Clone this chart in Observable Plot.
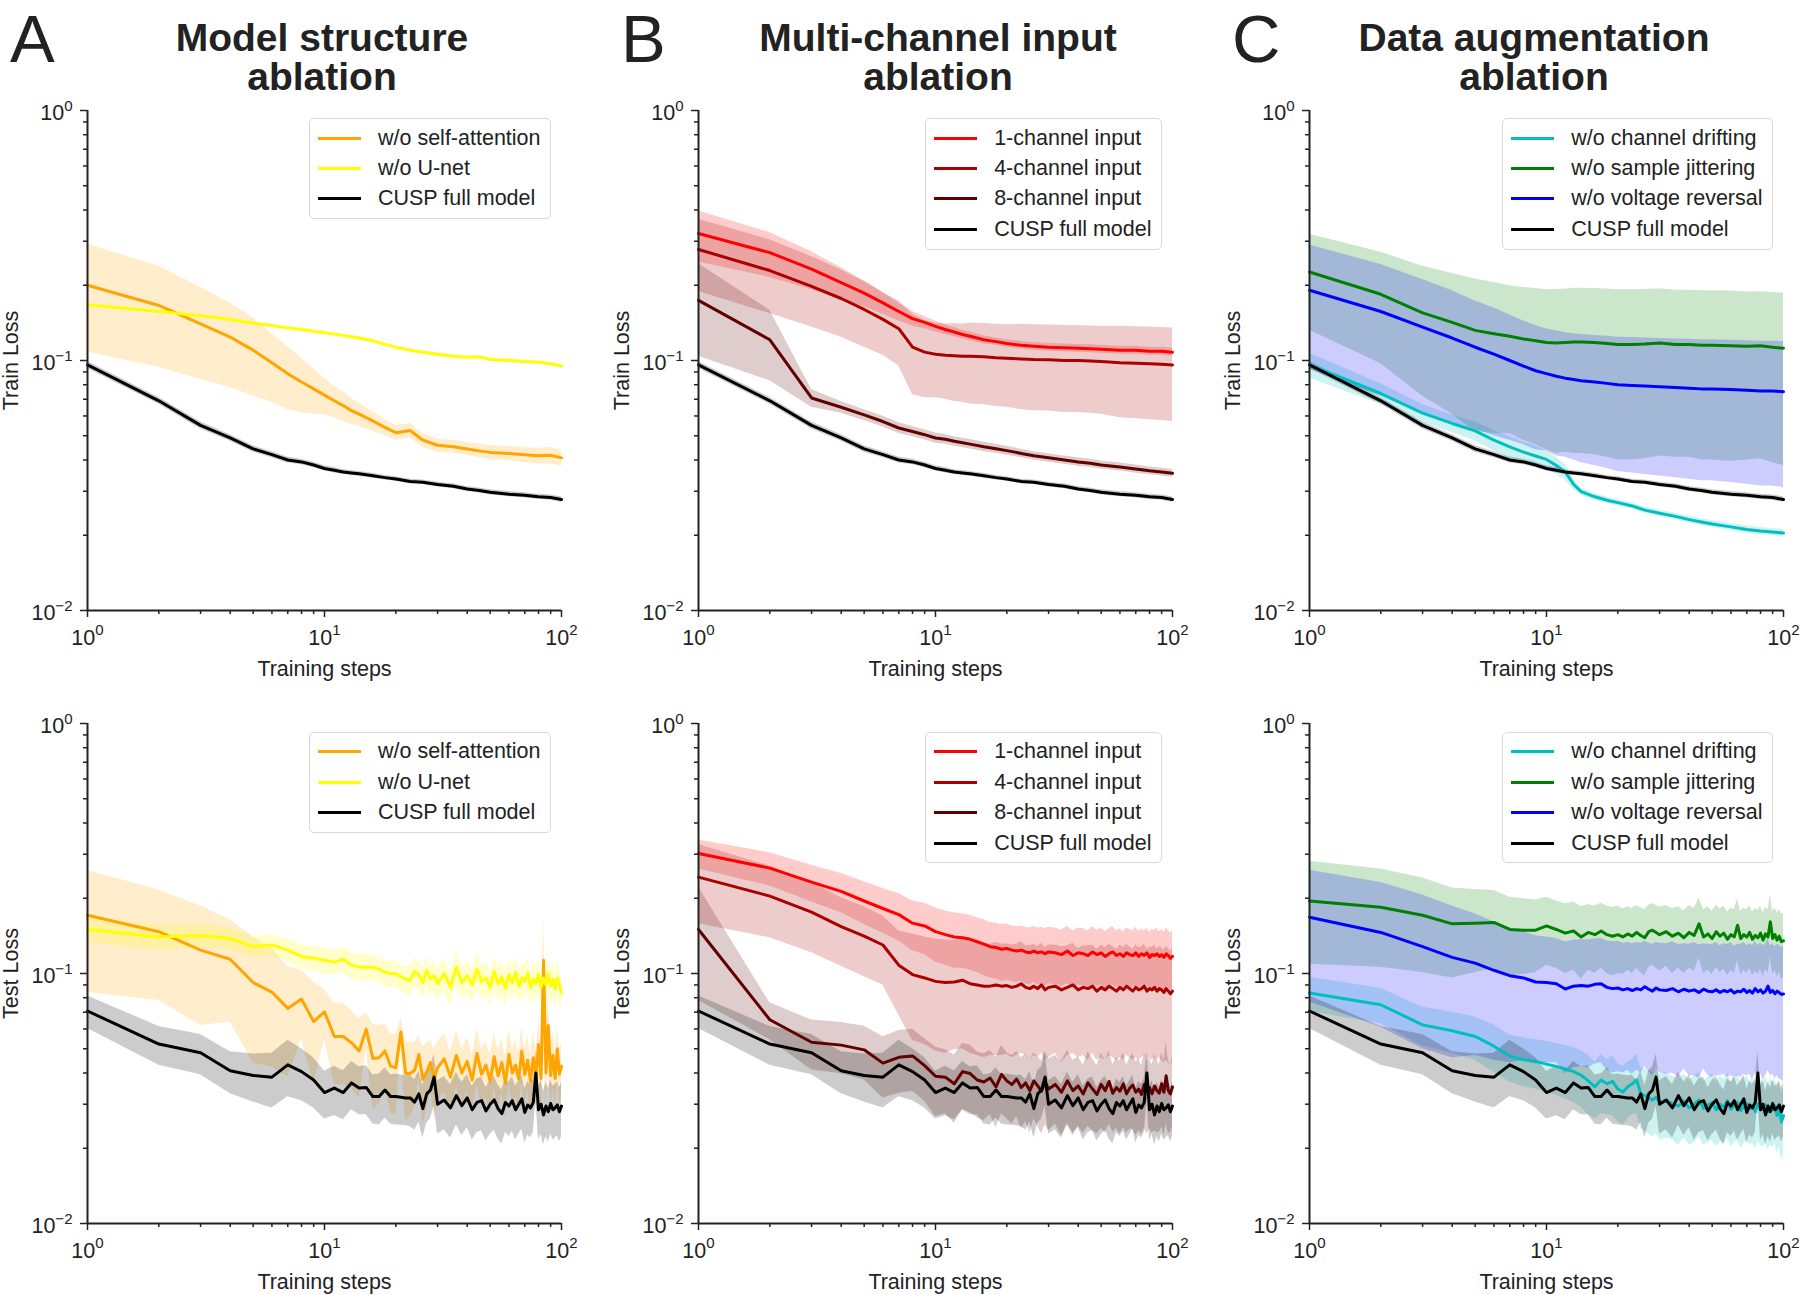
<!DOCTYPE html>
<html>
<head>
<meta charset="utf-8">
<script src="https://cdn.jsdelivr.net/npm/d3@7"></script>
<script src="https://cdn.jsdelivr.net/npm/@observablehq/plot@0.6"></script>
<style>
  body { margin: 0; background: #fff; }
  #fig { position: relative; width: 1800px; height: 1295px; overflow: hidden;
         font-family: "Liberation Sans", Arial, Helvetica, sans-serif; color: #222; background: #fff; }
  .letter { position: absolute; top: 0; font-size: 67px; line-height: normal; }
  .title { position: absolute; width: 600px; text-align: center; font-weight: bold; font-size: 39px; line-height: 39px; }
  .panel { position: absolute; width: 600px; }
  .panel svg { max-width: none !important; }
  .legend { position: absolute; background: rgba(255,255,255,0.8); border: 1.5px solid #d8d8d8; border-radius: 5px;
            padding: 4px 9px 4px 8px; font-size: 21.5px; }
  .legend .row { display: flex; align-items: center; height: 30.4px; white-space: nowrap; }
  .legend .swatch { width: 43px; height: 3px; margin-right: 17px; flex: none; }
</style>
</head>
<body>
<div id="fig"></div>
<script>
// ---------- step grids ----------
const trainSteps = [1,2,3,4,5,6,7,8,9,10,11,12,13,14,16,18,20,23,26,30,35,40,45,50,60,70,80,90,100];
const testSteps = [1,2,3,4,5,6,7,8,9,10,11,12,13,14,15,16,17,18,19,20,21,22,23,24,25,26,27,28,29,30,
  32,34,36,38,40,42,44,46,48,50,52,54,56,58,60,62,64,66,68,70,72,74,76,78,80,82,84,86,88,90,92,94,96,98,100];

// ---------- CUSP full model (shared by all panels) ----------
const fullTrain   = [0.096,0.069,0.055,0.049,0.0443,0.042,0.040,0.0393,0.0382,0.037,0.0364,0.0358,0.0355,0.0352,0.0346,0.0340,0.0336,0.0328,0.0326,0.0319,0.0314,0.0306,0.0302,0.0297,0.0292,0.0289,0.0285,0.0283,0.0278];
const fullTrainSd = [0.003,0.0022,0.0018,0.0015,0.0013,0.0012,0.0011,0.001,0.001,0.0009,0.0009,0.0008,0.0008,0.0008,0.0008,0.0007,0.0007,0.0007,0.0007,0.0007,0.0007,0.0007,0.0007,0.0007,0.0007,0.0007,0.0007,0.0007,0.0007];
const fullTest = [0.0708,0.0522,0.0482,0.0408,0.0391,0.0385,0.0431,0.0405,0.0375,0.0334,0.0348,0.0334,0.0365,0.0348,0.0350,0.0322,0.0322,0.0342,0.0322,0.0322,0.0320,0.0318,0.0318,0.0306,0.0330,0.0288,0.0330,0.0342,0.0385,0.0300,
  0.0312,0.0290,0.0325,0.0296,0.0318,0.0285,0.0305,0.0310,0.0282,0.0300,0.0312,0.0288,0.0275,0.0305,0.0295,0.0310,0.0285,0.0300,0.0315,0.0278,0.0298,0.0290,0.0305,0.0400,0.0285,0.0300,0.0272,0.0295,0.0280,0.0302,0.0285,0.0290,0.0298,0.0280,0.0295];
const fullTestSd = [0.0105,0.0092,0.0088,0.0078,0.0085,0.0095,0.0110,0.0095,0.0085,0.0072,0.0078,0.0074,0.0080,0.0076,0.0078,0.0072,0.0074,0.0078,0.0072,0.0074,0.0073,0.0072,0.0074,0.0070,0.0076,0.0068,0.0078,0.0080,0.0090,0.0072,
  0.0075,0.0070,0.0078,0.0071,0.0076,0.0069,0.0074,0.0075,0.0068,0.0073,0.0076,0.0070,0.0067,0.0074,0.0072,0.0076,0.0069,0.0073,0.0077,0.0068,0.0072,0.0070,0.0074,0.0090,0.0069,0.0073,0.0066,0.0072,0.0068,0.0074,0.0069,0.0070,0.0073,0.0068,0.0072];

// ---------- A: model structure ablation ----------
const noAttnTrain   = [0.200,0.166,0.140,0.124,0.110,0.098,0.0885,0.082,0.077,0.0727,0.069,0.066,0.063,0.061,0.0573,0.054,0.0514,0.0525,0.048,0.0458,0.0452,0.0443,0.0435,0.0429,0.0425,0.0420,0.0416,0.0418,0.0408];
const noAttnTrainSd = [0.092,0.072,0.056,0.046,0.038,0.030,0.025,0.020,0.016,0.012,0.010,0.009,0.0075,0.0065,0.005,0.004,0.0035,0.0035,0.003,0.0028,0.0027,0.0027,0.0027,0.0028,0.0028,0.0029,0.0030,0.0032,0.0030];
const noUnetTrain   = [0.167,0.157,0.151,0.146,0.141,0.138,0.135,0.133,0.131,0.129,0.1275,0.126,0.1245,0.123,0.120,0.116,0.113,0.110,0.108,0.106,0.104,0.103,0.1035,0.101,0.100,0.099,0.0985,0.097,0.095];
const noUnetTrainSd = [0.0015,0.0014,0.0013,0.0013,0.0012,0.0012,0.0012,0.0012,0.0012,0.0012,0.0012,0.0012,0.0012,0.0012,0.0012,0.0012,0.0012,0.0012,0.0012,0.0012,0.0012,0.0012,0.0012,0.0012,0.0012,0.0012,0.0012,0.0012,0.0012];
const noAttnTest = [0.171,0.147,0.124,0.114,0.092,0.0843,0.0725,0.079,0.0642,0.0703,0.056,0.056,0.0528,0.049,0.0598,0.0457,0.046,0.049,0.0426,0.042,0.0584,0.0398,0.0398,0.041,0.0474,0.0377,0.0405,0.044,0.038,0.042,
  0.0455,0.0385,0.0470,0.0400,0.0445,0.0375,0.0480,0.0395,0.0430,0.0370,0.0465,0.0390,0.0440,0.0365,0.0475,0.0400,0.0430,0.0380,0.0490,0.0395,0.0450,0.0370,0.0460,0.0385,0.0520,0.0380,0.1130,0.0400,0.0620,0.0390,0.0470,0.0380,0.0500,0.0395,0.0426];
const noAttnTestSd = [0.087,0.069,0.062,0.050,0.048,0.042,0.034,0.024,0.028,0.016,0.020,0.020,0.018,0.017,0.010,0.017,0.016,0.014,0.015,0.015,0.008,0.014,0.013,0.012,0.009,0.013,0.012,0.010,0.012,0.011,
  0.012,0.010,0.012,0.010,0.011,0.010,0.012,0.010,0.011,0.010,0.012,0.010,0.011,0.010,0.012,0.010,0.011,0.010,0.012,0.010,0.011,0.010,0.012,0.010,0.013,0.010,0.065,0.010,0.020,0.010,0.012,0.010,0.012,0.010,0.011];
const noUnetTest = [0.150,0.140,0.142,0.138,0.128,0.130,0.124,0.117,0.115,0.113,0.111,0.114,0.108,0.106,0.106,0.106,0.104,0.101,0.100,0.0997,0.097,0.095,0.0939,0.102,0.099,0.092,0.103,0.095,0.098,0.091,
  0.1000,0.0880,0.1060,0.0920,0.0980,0.0900,0.1040,0.0930,0.0960,0.0880,0.1020,0.0910,0.0970,0.0870,0.0990,0.0920,0.1010,0.0890,0.0960,0.0930,0.1000,0.0880,0.0950,0.0910,0.0990,0.0880,0.0960,0.0900,0.1000,0.0890,0.0950,0.0870,0.0960,0.0900,0.0837];
const noUnetTestSd = [0.017,0.016,0.015,0.014,0.012,0.013,0.013,0.013,0.013,0.014,0.013,0.013,0.013,0.013,0.013,0.012,0.012,0.012,0.012,0.012,0.012,0.012,0.013,0.014,0.013,0.013,0.014,0.013,0.014,0.013,
  0.015,0.014,0.017,0.014,0.015,0.014,0.017,0.014,0.015,0.014,0.016,0.014,0.015,0.014,0.016,0.014,0.016,0.014,0.015,0.014,0.016,0.014,0.015,0.014,0.016,0.014,0.015,0.014,0.017,0.014,0.015,0.014,0.016,0.014,0.014];

// ---------- B: multi-channel input ablation ----------
const ch1Train   = [0.322,0.270,0.232,0.205,0.186,0.170,0.157,0.147,0.142,0.137,0.133,0.130,0.127,0.125,0.121,0.119,0.117,0.115,0.114,0.113,0.1125,0.112,0.1115,0.111,0.110,0.110,0.109,0.109,0.108];
const ch1TrainSd = [0.074,0.055,0.040,0.030,0.022,0.017,0.013,0.010,0.008,0.007,0.006,0.0055,0.005,0.005,0.0045,0.004,0.004,0.004,0.004,0.004,0.004,0.004,0.004,0.004,0.004,0.004,0.004,0.004,0.004];
const ch4Train   = [0.278,0.229,0.198,0.177,0.160,0.146,0.134,0.113,0.108,0.106,0.105,0.1045,0.104,0.104,0.1035,0.1025,0.102,0.1015,0.101,0.1008,0.100,0.100,0.0995,0.099,0.098,0.0975,0.097,0.0965,0.096];
const ch4TrainSd = [0.089,0.075,0.062,0.053,0.047,0.041,0.039,0.040,0.037,0.035,0.035,0.036,0.036,0.037,0.037,0.037,0.037,0.038,0.038,0.038,0.038,0.038,0.038,0.038,0.039,0.039,0.039,0.039,0.039];
const ch8Train   = [0.174,0.121,0.0708,0.065,0.0606,0.057,0.0537,0.052,0.0505,0.049,0.0484,0.0475,0.0469,0.0463,0.0452,0.0444,0.0436,0.0425,0.0416,0.0408,0.040,0.0393,0.0388,0.0382,0.0375,0.0368,0.0362,0.0358,0.0354];
const ch8TrainSd = [0.070,0.038,0.0058,0.0035,0.003,0.0028,0.0026,0.0025,0.0024,0.0023,0.0022,0.0021,0.002,0.002,0.0019,0.0018,0.0018,0.0017,0.0016,0.0016,0.0015,0.0015,0.0015,0.0014,0.0014,0.0014,0.0013,0.0013,0.0013];
const ch1Test = [0.302,0.264,0.232,0.213,0.195,0.182,0.172,0.159,0.155,0.147,0.143,0.140,0.139,0.137,0.134,0.131,0.128,0.127,0.125,0.126,0.124,0.123,0.124,0.122,0.121,0.123,0.121,0.122,0.120,0.122,
  0.121,0.119,0.123,0.118,0.121,0.120,0.118,0.122,0.119,0.121,0.117,0.120,0.122,0.118,0.120,0.117,0.121,0.119,0.118,0.121,0.117,0.120,0.118,0.121,0.116,0.119,0.118,0.120,0.117,0.119,0.116,0.120,0.118,0.115,0.117];
const ch1TestSd = [0.040,0.040,0.039,0.038,0.038,0.037,0.037,0.036,0.036,0.036,0.035,0.035,0.034,0.034,0.033,0.033,0.032,0.032,0.032,0.032,0.031,0.031,0.031,0.031,0.031,0.031,0.031,0.031,0.031,0.031,
  0.031,0.030,0.032,0.030,0.031,0.031,0.030,0.032,0.030,0.031,0.030,0.031,0.032,0.030,0.031,0.030,0.031,0.031,0.030,0.032,0.030,0.031,0.030,0.031,0.030,0.031,0.031,0.032,0.030,0.031,0.030,0.032,0.031,0.030,0.031];
const ch4Test = [0.243,0.204,0.176,0.154,0.141,0.130,0.108,0.099,0.096,0.093,0.092,0.0925,0.094,0.091,0.090,0.089,0.089,0.090,0.089,0.0895,0.088,0.089,0.091,0.088,0.087,0.089,0.087,0.090,0.086,0.088,
  0.089,0.086,0.088,0.090,0.086,0.088,0.087,0.089,0.085,0.088,0.086,0.089,0.087,0.085,0.088,0.086,0.089,0.087,0.085,0.088,0.086,0.087,0.089,0.085,0.087,0.086,0.088,0.085,0.087,0.086,0.084,0.087,0.085,0.083,0.085];
const ch4TestSd = [0.085,0.065,0.055,0.047,0.044,0.040,0.040,0.045,0.044,0.044,0.044,0.043,0.044,0.043,0.043,0.043,0.042,0.043,0.042,0.042,0.042,0.042,0.043,0.041,0.042,0.042,0.041,0.042,0.041,0.042,
  0.041,0.042,0.041,0.042,0.040,0.041,0.042,0.041,0.040,0.042,0.041,0.042,0.041,0.040,0.042,0.041,0.042,0.041,0.040,0.042,0.041,0.041,0.042,0.040,0.041,0.041,0.042,0.040,0.041,0.041,0.040,0.042,0.041,0.040,0.041];
const ch8Test = [0.150,0.0653,0.0531,0.0517,0.0495,0.0438,0.0462,0.0468,0.0428,0.0388,0.0385,0.0362,0.0405,0.0398,0.0375,0.0368,0.0382,0.0352,0.0395,0.0372,0.0360,0.0378,0.0350,0.0365,0.0340,0.0372,0.0355,0.0338,0.0368,0.0345,
  0.0360,0.0335,0.0372,0.0340,0.0355,0.0330,0.0365,0.0345,0.0328,0.0360,0.0340,0.0370,0.0332,0.0350,0.0338,0.0362,0.0330,0.0348,0.0358,0.0335,0.0345,0.0328,0.0360,0.0338,0.0350,0.0330,0.0355,0.0340,0.0332,0.0362,0.0335,0.0390,0.0340,0.0330,0.0352];
const ch8TestSd = [0.072,0.011,0.012,0.012,0.012,0.012,0.013,0.013,0.012,0.012,0.011,0.011,0.012,0.012,0.011,0.011,0.011,0.011,0.012,0.011,0.011,0.011,0.011,0.011,0.011,0.011,0.011,0.011,0.012,0.011,
  0.011,0.011,0.012,0.011,0.011,0.010,0.012,0.011,0.010,0.012,0.011,0.012,0.010,0.011,0.011,0.012,0.010,0.011,0.012,0.011,0.011,0.010,0.012,0.011,0.011,0.010,0.012,0.011,0.010,0.012,0.011,0.014,0.011,0.010,0.011];

// ---------- C: data augmentation ablation ----------
const driftTrain   = [0.096,0.0738,0.0616,0.056,0.0523,0.048,0.0451,0.043,0.0415,0.0402,0.038,0.0358,0.032,0.0299,0.0285,0.0276,0.027,0.0262,0.0252,0.0245,0.0238,0.0231,0.0226,0.0222,0.0216,0.0211,0.0208,0.0206,0.0204];
const driftTrainSd = [0.011,0.007,0.005,0.0045,0.0045,0.0045,0.0045,0.0042,0.004,0.0035,0.003,0.0025,0.0015,0.001,0.0008,0.0008,0.0008,0.0007,0.0007,0.0007,0.0007,0.0007,0.0007,0.0007,0.0007,0.0007,0.0007,0.0007,0.0007];
const jitterTrain   = [0.226,0.184,0.155,0.142,0.132,0.128,0.125,0.122,0.120,0.118,0.1175,0.118,0.1185,0.1185,0.118,0.117,0.116,0.116,0.1165,0.1175,0.116,0.116,0.115,0.115,0.1145,0.114,0.1145,0.113,0.112];
const jitterTrainSd = [0.094,0.087,0.083,0.081,0.080,0.077,0.074,0.074,0.074,0.074,0.075,0.075,0.076,0.076,0.076,0.076,0.076,0.076,0.076,0.076,0.075,0.075,0.075,0.075,0.075,0.074,0.074,0.074,0.074];
const reversalTrain   = [0.191,0.157,0.136,0.123,0.113,0.106,0.100,0.095,0.091,0.0886,0.0865,0.085,0.084,0.083,0.082,0.081,0.080,0.0795,0.079,0.0785,0.078,0.0775,0.077,0.077,0.0765,0.076,0.0755,0.0755,0.075];
const reversalTrainSd = [0.099,0.085,0.075,0.067,0.060,0.056,0.052,0.049,0.047,0.045,0.045,0.044,0.044,0.044,0.044,0.044,0.044,0.044,0.044,0.044,0.044,0.044,0.044,0.044,0.044,0.044,0.044,0.044,0.044];
const driftTest = [0.0835,0.0750,0.0623,0.0590,0.0560,0.0512,0.0468,0.0452,0.0445,0.0434,0.0425,0.0415,0.0405,0.0392,0.0372,0.0352,0.0375,0.0362,0.0370,0.0345,0.0336,0.0352,0.0362,0.0375,0.0330,0.0325,0.0318,0.0312,0.0320,0.0305,
  0.0310,0.0302,0.0295,0.0308,0.0290,0.0300,0.0312,0.0288,0.0298,0.0305,0.0285,0.0300,0.0292,0.0310,0.0286,0.0298,0.0305,0.0282,0.0295,0.0302,0.0288,0.0296,0.0280,0.0300,0.0290,0.0285,0.0298,0.0278,0.0292,0.0285,0.0295,0.0270,0.0288,0.0255,0.0270];
const driftTestSd = [0.013,0.012,0.011,0.011,0.011,0.011,0.010,0.010,0.010,0.010,0.010,0.010,0.010,0.010,0.010,0.009,0.010,0.009,0.010,0.009,0.009,0.009,0.009,0.010,0.009,0.009,0.009,0.009,0.009,0.009,
  0.009,0.0085,0.009,0.0088,0.0084,0.009,0.0088,0.0083,0.0087,0.009,0.0082,0.0088,0.0085,0.009,0.0083,0.0087,0.009,0.0082,0.0086,0.0088,0.0083,0.0086,0.0081,0.0088,0.0085,0.0083,0.0087,0.0081,0.0086,0.0083,0.0086,0.0079,0.0084,0.0076,0.0080];
const jitterTest = [0.195,0.184,0.171,0.158,0.159,0.160,0.150,0.149,0.149,0.155,0.150,0.145,0.148,0.140,0.146,0.143,0.148,0.143,0.141,0.143,0.140,0.144,0.141,0.146,0.142,0.139,0.147,0.149,0.146,0.143,
  0.147,0.141,0.145,0.139,0.146,0.142,0.158,0.140,0.144,0.138,0.147,0.141,0.145,0.137,0.143,0.140,0.156,0.138,0.143,0.140,0.146,0.137,0.142,0.139,0.145,0.136,0.144,0.140,0.161,0.138,0.143,0.136,0.141,0.134,0.135];
const jitterTestSd = [0.086,0.078,0.070,0.062,0.058,0.055,0.052,0.050,0.048,0.047,0.045,0.045,0.045,0.045,0.043,0.043,0.043,0.043,0.043,0.043,0.041,0.041,0.041,0.041,0.041,0.041,0.041,0.041,0.041,0.041,
  0.040,0.041,0.040,0.039,0.041,0.040,0.043,0.040,0.041,0.039,0.041,0.040,0.041,0.039,0.040,0.040,0.043,0.039,0.040,0.040,0.041,0.039,0.040,0.040,0.041,0.039,0.040,0.040,0.044,0.039,0.040,0.039,0.040,0.039,0.039];
const reversalTest = [0.168,0.146,0.128,0.116,0.110,0.103,0.098,0.096,0.0925,0.092,0.091,0.0867,0.089,0.0895,0.089,0.0905,0.091,0.088,0.087,0.0875,0.086,0.087,0.0855,0.087,0.086,0.0885,0.0865,0.085,0.0875,0.086,
  0.0855,0.0870,0.0845,0.0865,0.0850,0.0860,0.0840,0.0865,0.0850,0.0845,0.0860,0.0840,0.0855,0.0845,0.0860,0.0835,0.0850,0.0845,0.0865,0.0840,0.0855,0.0835,0.0870,0.0845,0.0860,0.0835,0.0850,0.0890,0.0840,0.0855,0.0830,0.0850,0.0838,0.0825,0.0828];
const reversalTestSd = [0.091,0.085,0.078,0.070,0.063,0.058,0.054,0.051,0.049,0.048,0.047,0.047,0.047,0.047,0.047,0.047,0.047,0.047,0.047,0.047,0.046,0.046,0.046,0.046,0.046,0.046,0.046,0.046,0.046,0.046,
  0.046,0.047,0.046,0.045,0.046,0.047,0.046,0.045,0.046,0.046,0.047,0.045,0.046,0.046,0.047,0.045,0.046,0.046,0.047,0.045,0.046,0.046,0.047,0.045,0.046,0.046,0.046,0.048,0.045,0.046,0.045,0.046,0.046,0.045,0.046];

// ---------- axis ticks ----------
const yMajor = [0.01, 0.1, 1];
const yMinor = [0.02,0.03,0.04,0.05,0.06,0.07,0.08,0.09,0.2,0.3,0.4,0.5,0.6,0.7,0.8,0.9];
const xMajor = [1, 10, 100];
const xMinor = [2,3,4,5,6,7,8,9,20,30,40,50,60,70,80,90];

// ---------- panel definitions ----------
const FULL = "CUSP full model";
const panels = [
  { letter: "A", title: ["Model structure", "ablation"], titleCenter: 322, series: [
      { name: "w/o self-attention", color: "#ffa500", train: [noAttnTrain, noAttnTrainSd], test: [noAttnTest, noAttnTestSd] },
      { name: "w/o U-net", color: "#ffff00", train: [noUnetTrain, noUnetTrainSd], test: [noUnetTest, noUnetTestSd] },
      { name: FULL, color: "#000000", train: [fullTrain, fullTrainSd], test: [fullTest, fullTestSd] } ] },
  { letter: "B", title: ["Multi-channel input", "ablation"], titleCenter: 938, series: [
      { name: "1-channel input", color: "#ff0000", train: [ch1Train, ch1TrainSd], test: [ch1Test, ch1TestSd] },
      { name: "4-channel input", color: "#aa0000", train: [ch4Train, ch4TrainSd], test: [ch4Test, ch4TestSd] },
      { name: "8-channel input", color: "#600000", train: [ch8Train, ch8TrainSd], test: [ch8Test, ch8TestSd] },
      { name: FULL, color: "#000000", train: [fullTrain, fullTrainSd], test: [fullTest, fullTestSd] } ] },
  { letter: "C", title: ["Data augmentation", "ablation"], titleCenter: 1534, series: [
      { name: "w/o channel drifting", color: "#00bfbf", train: [driftTrain, driftTrainSd], test: [driftTest, driftTestSd] },
      { name: "w/o sample jittering", color: "#008000", train: [jitterTrain, jitterTrainSd], test: [jitterTest, jitterTestSd] },
      { name: "w/o voltage reversal", color: "#0000ff", train: [reversalTrain, reversalTrainSd], test: [reversalTest, reversalTestSd] },
      { name: FULL, color: "#000000", train: [fullTrain, fullTrainSd], test: [fullTest, fullTestSd] } ] }
];

// ---------- drawing ----------
const INK = "#222";
const FONT = '"Liberation Sans", Arial, Helvetica, sans-serif';
const PW = 600, PH = 595, ML = 87, MR = 39, MT = 20, MB = 75;   // svg size and margins
const FRAME_W = PW - ML - MR;

const rowsOf = (steps, [mean, sd]) =>
  steps.map((step, i) => ({ step, mean: mean[i], lo: mean[i] - sd[i], hi: mean[i] + sd[i] }));

const exponent = d => String(Math.round(Math.log10(d)));

function lossPlot(series, kind, yLabel) {
  const steps = kind === "train" ? trainSteps : testSteps;
  const data = series.map(s => ({ ...s, rows: rowsOf(steps, s[kind]) }));
  const marks = [];
  for (const s of data) marks.push(Plot.areaY(s.rows, { x: "step", y1: "lo", y2: "hi", fill: s.color, fillOpacity: 0.2 }));
  for (const s of data) marks.push(Plot.lineY(s.rows, { x: "step", y: "mean", stroke: s.color, strokeWidth: 3 }));
  marks.push(
    Plot.axisY({ ticks: yMinor, tickSize: 4, fill: "none", stroke: INK, strokeWidth: 1.5, label: null }),
    Plot.axisY({ ticks: yMajor, tickSize: 7, fill: "none", stroke: INK, strokeWidth: 1.5, label: null }),
    Plot.axisY({ ticks: yMajor, tickSize: 0, tickPadding: 15, dy: 3, tickFormat: exponent, label: null, fill: INK }),
    Plot.axisX({ ticks: xMinor, tickSize: 4, fill: "none", stroke: INK, strokeWidth: 1.5, label: null }),
    Plot.axisX({ ticks: xMajor, tickSize: 7, fill: "none", stroke: INK, strokeWidth: 1.5, label: null }),
    Plot.axisX({ ticks: xMajor, tickSize: 0, tickPadding: 19, tickFormat: exponent, label: null, fill: INK }),
    Plot.ruleX([1], { stroke: INK, strokeWidth: 2 }),
    Plot.ruleY([0.01], { stroke: INK, strokeWidth: 2 }),
    Plot.text([yLabel], { frameAnchor: "left", textAnchor: "middle", lineAnchor: "middle", dx: -76, rotate: -90, fill: INK, fontSize: 21.5 }),
    Plot.text(["Training steps"], { frameAnchor: "bottom", textAnchor: "middle", lineAnchor: "middle", dy: 59, fill: INK, fontSize: 21.5 })
  );
  const svg = Plot.plot({
    width: PW, height: PH, marginLeft: ML, marginRight: MR, marginTop: MT, marginBottom: MB,
    x: { type: "log", domain: [1, 100] },
    y: { type: "log", domain: [0.01, 1] },
    style: { fontFamily: FONT, fontSize: "21.5px", color: INK, background: "transparent", overflow: "visible", maxWidth: "none" },
    marks
  });
  // power-of-ten labels: "10" with a raised exponent
  svg.querySelectorAll('g[aria-label="y-axis tick label"] text, g[aria-label="x-axis tick label"] text').forEach(t => {
    const e = t.textContent;
    if (e === "") return;
    t.textContent = "10";
    const sup = document.createElementNS("http://www.w3.org/2000/svg", "tspan");
    sup.setAttribute("dy", "-0.62em");
    sup.setAttribute("font-size", "0.7em");
    sup.textContent = e.replace("-", "\u2212");
    t.appendChild(sup);
  });
  return svg;
}

function legend(series, frameRight, frameTop) {
  const box = document.createElement("div");
  box.className = "legend";
  box.style.right = (1800 - (frameRight - 10.5)) + "px";
  box.style.top = (frameTop + 8.5) + "px";
  for (const s of series) {
    const row = document.createElement("div");
    row.className = "row";
    const sw = document.createElement("div");
    sw.className = "swatch";
    sw.style.background = s.color;
    const label = document.createElement("span");
    label.textContent = s.name;
    row.append(sw, label);
    box.append(row);
  }
  return box;
}

const fig = document.getElementById("fig");
const rowTops = { train: 109.5 - MT, test: 723.3 - MT };
const rowLabels = { train: "Train Loss", test: "Test Loss" };

panels.forEach((p, j) => {
  const left = j * 611;
  const letter = document.createElement("div");
  letter.className = "letter";
  letter.textContent = p.letter;
  letter.style.left = (left + 10) + "px";
  fig.append(letter);

  const title = document.createElement("div");
  title.className = "title";
  title.innerHTML = p.title.join("<br>");
  title.style.left = (p.titleCenter - 300) + "px";
  title.style.top = "17.5px";
  fig.append(title);

  for (const kind of ["train", "test"]) {
    const holder = document.createElement("div");
    holder.className = "panel";
    holder.style.left = left + "px";
    holder.style.top = rowTops[kind] + "px";
    holder.append(lossPlot(p.series, kind, rowLabels[kind]));
    fig.append(holder);
    fig.append(legend(p.series, left + ML + FRAME_W, rowTops[kind] + MT));
  }
});
</script>
</body>
</html>
